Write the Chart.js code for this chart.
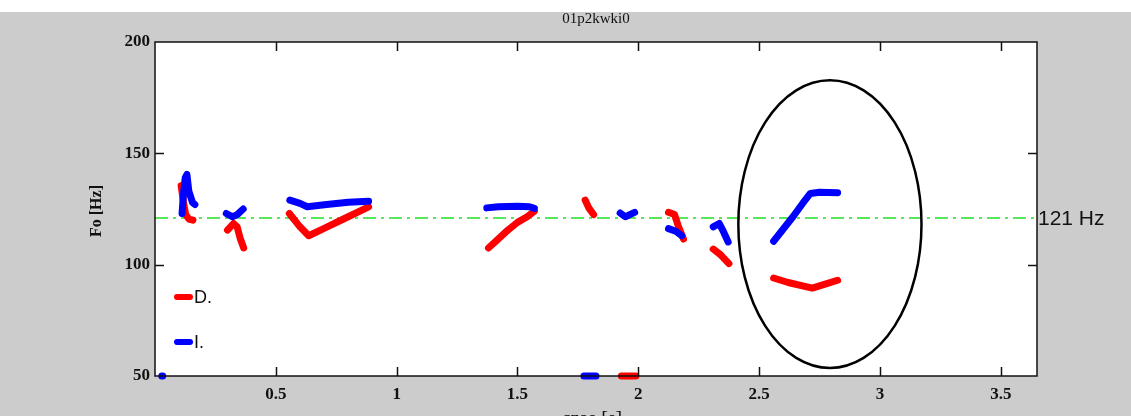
<!DOCTYPE html>
<html>
<head>
<meta charset="utf-8">
<title>01p2kwki0</title>
<script src="https://cdn.jsdelivr.net/npm/chart.js@4.4.1/dist/chart.umd.min.js"></script>
<style>
  html, body { margin: 0; padding: 0; background: #fff; }
  #chart-f0 { display: block; }
</style>
</head>
<body>
<canvas id="chart-f0" width="1131" height="416"></canvas>
<script>
// F0 contours (time in s, Fo in Hz); null breaks the line between voiced stretches
const timeD = [
  0.108, 0.118, 0.127, 0.14, 0.157, null,
  0.30, 0.325, 0.34, 0.352, 0.367, null,
  0.556, 0.6, 0.636, 0.7, 0.78, 0.884, null,
  1.38, 1.42, 1.46, 1.5, 1.54, 1.57, null,
  1.78, 1.795, 1.815, null,
  1.93, 1.99, null,
  2.125, 2.15, 2.165, 2.187, null,
  2.31, 2.34, 2.375, null,
  2.56, 2.62, 2.72, 2.78, 2.825,
];
const f0D = [
  135.5, 128, 122.5, 120.5, 120, null,
  115.5, 118.5, 117, 112, 107.5, null,
  123, 117, 113, 116.3, 120.5, 126, null,
  107.5, 111.5, 115.5, 119, 121.5, 124, null,
  129, 125.5, 122.5, null,
  50, 50, null,
  123.5, 122.5, 117.5, 111.5, null,
  107, 104.5, 100.5, null,
  94, 92, 89.5, 91.5, 93,
];

const timeI = [
  0.028, 0.032, null,
  0.112, 0.118, 0.125, 0.132, 0.14, 0.155, 0.165, null,
  0.295, 0.32, 0.34, 0.365, null,
  0.558, 0.6, 0.63, 0.71, 0.8, 0.884, null,
  1.373, 1.42, 1.5, 1.55, 1.57, null,
  1.775, 1.825, null,
  1.925, 1.946, 1.965, 1.985, null,
  2.125, 2.155, 2.18, null,
  2.31, 2.335, 2.353, 2.372, null,
  2.56, 2.6, 2.64, 2.68, 2.712, 2.75, 2.825,
];
const f0I = [
  50, 50, null,
  123, 132, 139, 140.5, 133, 128, 127, null,
  123, 121.5, 122.5, 125, null,
  129, 127.5, 126, 127, 128, 128.5, null,
  125.5, 126, 126.2, 126, 125.3, null,
  50, 50, null,
  123.2, 121.5, 122.5, 123.5, null,
  116.2, 115, 113, null,
  117, 118.5, 114.7, 110.2, null,
  110.5, 116, 121.5, 127.5, 132, 132.5, 132.3,
];

const refF0 = 121;
const refTime = [0, 3.65];
const seriesNames = ["D.", "I."];
const xRange = [0, 3.65];
const yRange = [50, 200];

// highlighted region (centre and radii in axis units)
const mark = { t: 2.793, f: 118.2, rt: 0.379, rf: 64.6 };

const RED = "#ff0000";
const BLUE = "#0000ff";
const GREEN = "#22e022";
const SERIF = "'Liberation Serif', 'Times New Roman', serif";
const SANS = "'Liberation Sans', Arial, sans-serif";

function toPoints(xs, ys) {
  return xs.map((x, i) => ({ x, y: ys[i] }));
}

const figure = {
  id: "figure",
  beforeDraw(chart) {
    const { ctx, chartArea: a, width, height } = chart;
    ctx.save();
    ctx.fillStyle = "#ffffff";
    ctx.fillRect(0, 0, width, height);
    ctx.fillStyle = "#cccccc";
    ctx.fillRect(0, 12, width, height - 12);
    ctx.fillStyle = "#ffffff";
    ctx.fillRect(a.left, a.top, a.right - a.left, a.bottom - a.top);
    ctx.restore();
  },
  afterDraw(chart) {
    const { ctx, chartArea: a } = chart;
    const xs = chart.scales.x;
    const ys = chart.scales.y;
    const tick = 9;
    ctx.save();

    // box with inward ticks
    ctx.strokeStyle = "#111";
    ctx.lineWidth = 1.5;
    ctx.strokeRect(a.left, a.top, a.right - a.left, a.bottom - a.top);
    ctx.beginPath();
    xs.ticks.forEach((t) => {
      if (t.value <= xRange[0] || t.value >= xRange[1]) return;
      const px = Math.round(xs.getPixelForValue(t.value)) + 0.5;
      ctx.moveTo(px, a.bottom);
      ctx.lineTo(px, a.bottom - tick);
      ctx.moveTo(px, a.top);
      ctx.lineTo(px, a.top + tick);
    });
    ys.ticks.forEach((t) => {
      if (t.value <= yRange[0] || t.value >= yRange[1]) return;
      const py = Math.round(ys.getPixelForValue(t.value)) + 0.5;
      ctx.moveTo(a.left, py);
      ctx.lineTo(a.left + tick, py);
      ctx.moveTo(a.right, py);
      ctx.lineTo(a.right - tick, py);
    });
    ctx.stroke();

    // ellipse around the final stretch
    const cx = xs.getPixelForValue(mark.t);
    const cy = ys.getPixelForValue(mark.f);
    const rx = xs.getPixelForValue(mark.t + mark.rt) - cx;
    const ry = cy - ys.getPixelForValue(mark.f + mark.rf);
    ctx.beginPath();
    ctx.ellipse(cx, cy, rx, ry, 0, 0, Math.PI * 2);
    ctx.lineWidth = 2.5;
    ctx.strokeStyle = "#000";
    ctx.stroke();

    // legend inside the axes
    const colors = [RED, BLUE];
    ctx.lineCap = "round";
    ctx.lineWidth = 6;
    ctx.font = `18px ${SANS}`;
    ctx.textBaseline = "middle";
    seriesNames.forEach((name, i) => {
      const y = a.top + 255 + i * 45;
      ctx.strokeStyle = colors[i];
      ctx.beginPath();
      ctx.moveTo(a.left + 22, y);
      ctx.lineTo(a.left + 35, y);
      ctx.stroke();
      ctx.fillStyle = "#111";
      ctx.fillText(name, a.left + 39, y + 1);
    });

    // reference level label
    ctx.font = `21px ${SANS}`;
    ctx.fillStyle = "#111";
    ctx.textAlign = "left";
    ctx.fillText(`${refF0} Hz`, a.right + 1, ys.getPixelForValue(refF0) + 1);

    // title and axis titles
    ctx.font = `15px ${SERIF}`;
    ctx.textAlign = "center";
    ctx.fillText("01p2kwki0", (a.left + a.right) / 2, 19);

    ctx.font = `20px ${SERIF}`;
    ctx.textBaseline = "alphabetic";
    ctx.fillText("czas [s]", 592, 425);

    ctx.save();
    ctx.translate(97, 211);
    ctx.rotate(-Math.PI / 2);
    ctx.font = `bold 16px ${SERIF}`;
    ctx.textBaseline = "middle";
    ctx.fillText("Fo [Hz]", 0, 0);
    ctx.restore();

    ctx.restore();
  },
};

function initChart() {
  const line = {
    borderWidth: 7,
    pointRadius: 0,
    borderCapStyle: "round",
    borderJoinStyle: "round",
    spanGaps: false,
    tension: 0,
    clip: false,
  };

  new Chart(document.getElementById("chart-f0"), {
    type: "line",
    data: {
      datasets: [
        { ...line, label: seriesNames[0], data: toPoints(timeD, f0D), borderColor: RED, order: 1 },
        { ...line, label: seriesNames[1], data: toPoints(timeI, f0I), borderColor: BLUE, order: 0 },
        {
          label: "ref",
          data: toPoints(refTime, [refF0, refF0]),
          borderColor: GREEN,
          borderWidth: 1.5,
          borderDash: [13, 5, 3, 5],
          pointRadius: 0,
          order: 2,
        },
      ],
    },
    options: {
      responsive: false,
      animation: false,
      devicePixelRatio: 1,
      layout: { padding: { top: 42, right: 94, left: 0, bottom: 0 } },
      plugins: { legend: { display: false }, tooltip: { enabled: false }, title: { display: false } },
      scales: {
        x: {
          type: "linear",
          min: xRange[0],
          max: xRange[1],
          grid: { display: false, drawTicks: false },
          border: { display: false },
          ticks: {
            stepSize: 0.5,
            includeBounds: false,
            maxRotation: 0,
            padding: 8,
            color: "#111",
            font: { family: SERIF, size: 17, weight: "bold" },
            callback: (v) => (v === 0 ? "" : String(v)),
          },
          afterFit: (s) => { s.height = 40; },
        },
        y: {
          min: yRange[0],
          max: yRange[1],
          grid: { display: false, drawTicks: false },
          border: { display: false },
          ticks: {
            stepSize: 50,
            padding: 5,
            color: "#111",
            font: { family: SERIF, size: 17, weight: "bold" },
          },
          afterFit: (s) => { s.width = 155; },
        },
      },
    },
    plugins: [figure],
  });
}

document.addEventListener("DOMContentLoaded", initChart);
</script>
</body>
</html>
